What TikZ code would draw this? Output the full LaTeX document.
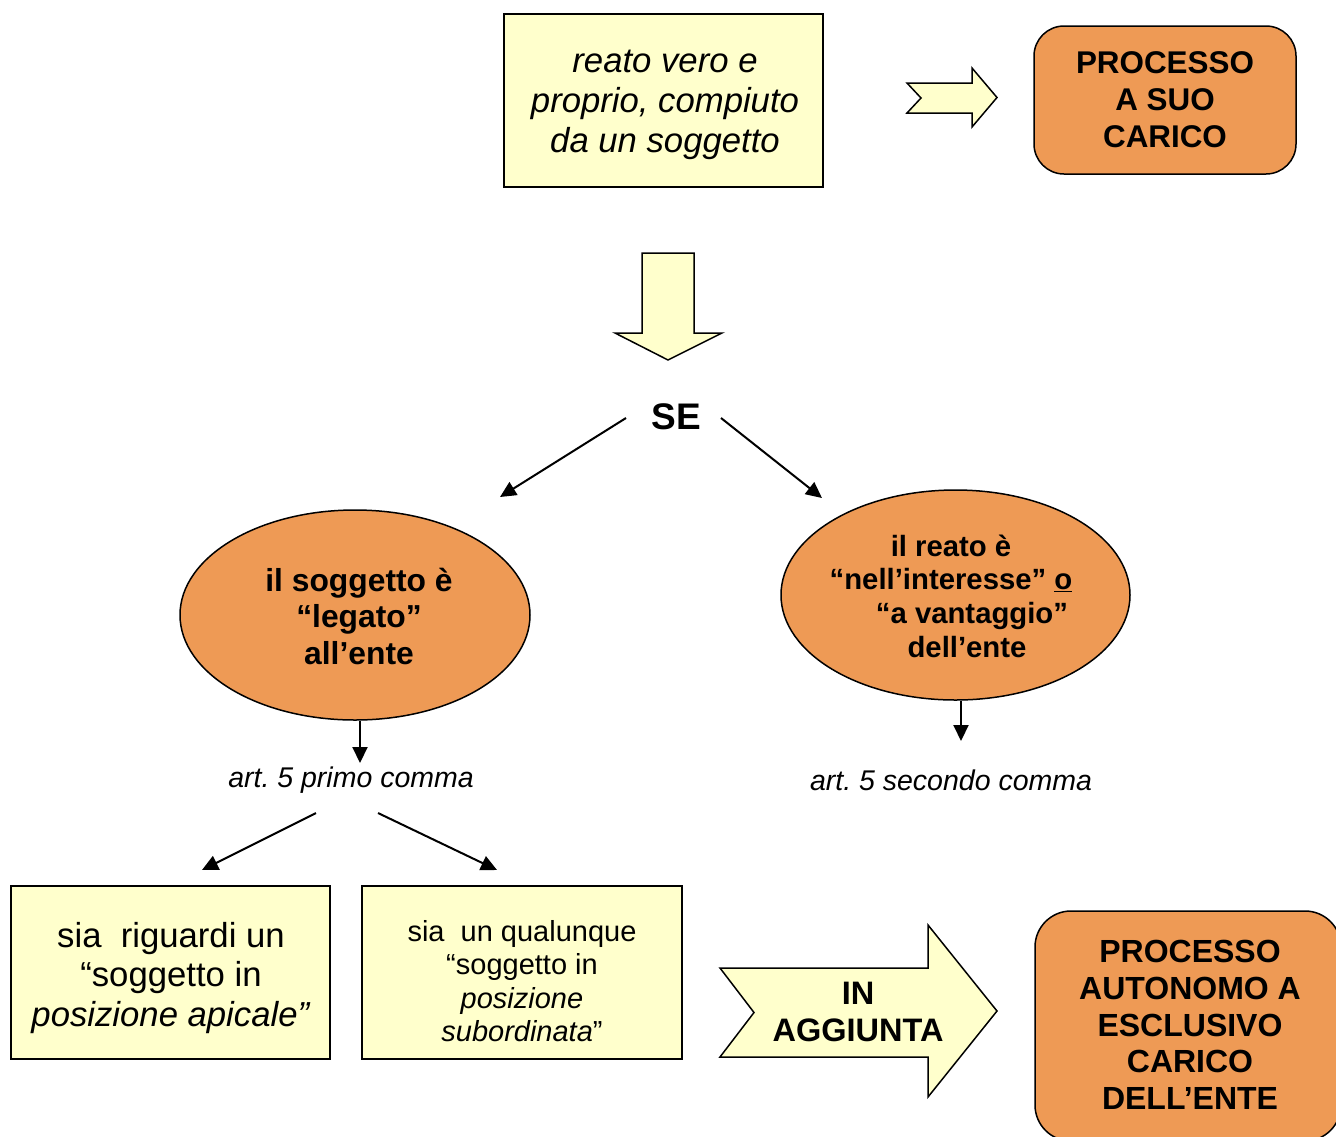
\documentclass[tikz,border=0pt]{standalone}
\usepackage{fontspec}
\setmainfont{Liberation Sans}
\usetikzlibrary{shapes.geometric,arrows.meta}
\definecolor{paleyel}{RGB}{255,255,204}
\definecolor{orng}{RGB}{238,154,85}
\frenchspacing
\tikzset{
  yelbox/.style={draw=black, line width=1.5pt, fill=paleyel, rectangle, inner sep=0pt, align=center},
  orbox/.style={draw=black, line width=1.5pt, fill=orng, rectangle, rounded corners=30pt, inner sep=0pt, align=center},
  orell/.style={draw=black, line width=1.5pt, fill=orng, ellipse, inner sep=0pt, align=center},
  blockarrow/.style={draw=black, line width=1.5pt, fill=paleyel, line join=miter},
  conn/.style={line width=2pt, -{Triangle[length=16pt,width=15pt]}},
  lbl/.style={inner sep=0pt, align=center}
}
\begin{document}
\begin{tikzpicture}[x=1pt,y=-1pt]
\useasboundingbox (0,0) rectangle (1336,1136);
\clip (0,0) rectangle (1336,1136);
\fill[white] (0,0) rectangle (1336,1136);

% top box
\node[yelbox, minimum width=319pt, minimum height=173pt] (top) at (663.5,100.5) {};
\node[lbl, font=\fontsize{34.7}{40}\selectfont\itshape] (toptxt) at (665,105) {reato vero e\\proprio, compiuto\\da un soggetto};

% small chevron arrow
\draw[blockarrow] (907,83) -- (972,83) -- (972,68) -- (997,97.5) -- (972,127) -- (972,113) -- (907,113) -- (921,98) -- cycle;

% processo a suo carico
\node[orbox, minimum width=262pt, minimum height=148pt] (proc) at (1165,100) {};
\node[lbl, font=\fontsize{31.4}{37}\selectfont\bfseries] at (1165,100) {PROCESSO\\A SUO\\CARICO};

% big down arrow
\draw[blockarrow] (642,253) -- (694,253) -- (694,333) -- (722,333) -- (668,360) -- (615,333) -- (642,333) -- cycle;

% SE
\node[lbl, font=\fontsize{37}{42}\selectfont\bfseries] (se) at (676,417) {SE};
\coordinate (seL) at (626,418);
\coordinate (seLend) at (500,497);
\coordinate (seR) at (721,418);
\coordinate (seRend) at (822,498);
\draw[conn] (seL) -- (seLend);
\draw[conn] (seR) -- (seRend);

% ellipses
\node[orell, minimum width=350pt, minimum height=210pt] (ellL) at (355,615) {};
\node[lbl, font=\fontsize{31.8}{36.5}\selectfont\bfseries] at (359,616) {il soggetto è\\“legato”\\all’ente};
\node[orell, minimum width=349pt, minimum height=210pt] (ellR) at (955.5,595) {};
\node[lbl, font=\fontsize{29.3}{33.7}\selectfont\bfseries] at (951,596) {il reato è\\“nell’interesse” \underline{o}\\\hspace*{42pt}“a vantaggio”\\\hspace*{32pt}dell’ente};

% arrows down
\coordinate (dL) at (360,763);
\coordinate (dR) at (961,741);
\draw[conn] (ellL.south -| dL) -- (dL);
\draw[conn] (ellR.south -| dR) -- (dR);

\node[lbl, font=\fontsize{28.5}{34}\selectfont\itshape] (art1) at (351,780) {art. 5 primo comma};
\node[lbl, font=\fontsize{28.5}{34}\selectfont\itshape] (art2) at (951,780) {art. 5 secondo comma};

\coordinate (a1s) at (316,813);
\coordinate (a1e) at (202,870);
\coordinate (a2s) at (378,813);
\coordinate (a2e) at (497,870);
\draw[conn] (a1s) -- (a1e);
\draw[conn] (a2s) -- (a2e);

% bottom boxes
\node[yelbox, minimum width=319pt, minimum height=173pt] (b1) at (170.5,972.5) {};
\node[lbl, font=\fontsize{34.7}{39.5}\selectfont] at (171,978) {sia \ riguardi un\\“soggetto in\\\textit{posizione apicale”}};
\node[yelbox, minimum width=320pt, minimum height=173pt] (b2) at (522,972.5) {};
\node[lbl, font=\fontsize{29}{33.5}\selectfont] at (522,981) {sia \ un qualunque\\“soggetto in\\\textit{posizione}\\\textit{subordinata}”};

% IN AGGIUNTA arrow
\draw[blockarrow] (720,968) -- (928,968) -- (928,925) -- (997,1011) -- (928,1097) -- (928,1057) -- (720,1057) -- (754,1012.5) -- cycle;
\node[lbl, font=\fontsize{32.5}{37}\selectfont\bfseries] (inagg) at (858,1012) {IN\\AGGIUNTA};

% processo autonomo
\node[orbox, rounded corners=36pt, minimum width=306pt, minimum height=230pt] (proc2) at (1188,1026) {};
\node[lbl, font=\fontsize{32}{36.6}\selectfont\bfseries] at (1190,1025) {PROCESSO\\AUTONOMO A\\ESCLUSIVO\\CARICO\\DELL’ENTE};
\end{tikzpicture}
\end{document}
